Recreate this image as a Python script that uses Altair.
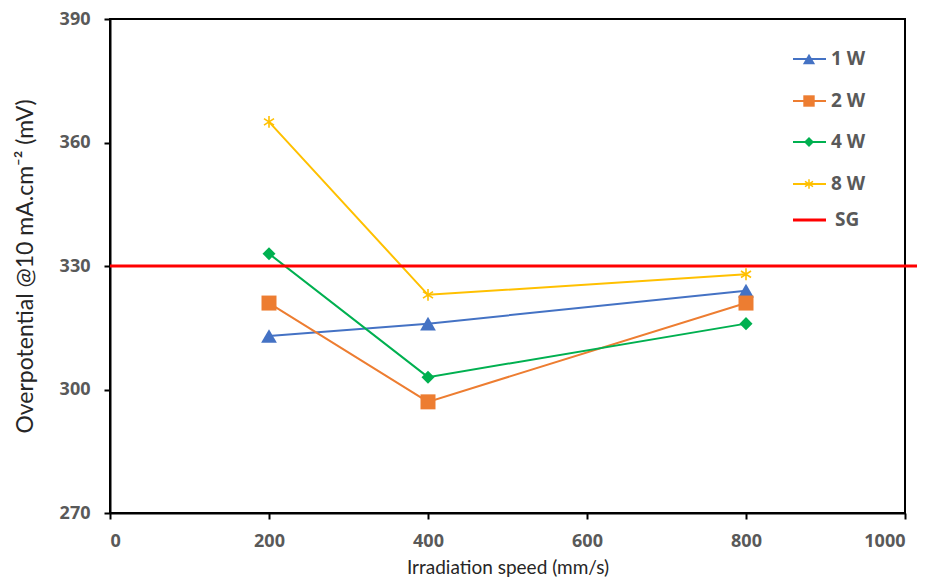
import altair as alt
import pandas as pd

# ---- data ----
speeds = [200, 400, 800]
w1 = [313, 316, 324]
w2 = [321, 297, 321]
w4 = [333, 303, 316]
w8 = [365, 323, 328]
sg_x = [0, 1022]
sg_y = [330, 330]
series = ["1 W", "2 W", "4 W", "8 W"]
legend_names = ["1 W", "2 W", "4 W", "8 W", "SG"]
colors = ["#4472C4", "#ED7D31", "#00B050", "#FFC000"]
sg_color = "#FF0000"
x_ticks = [0, 200, 400, 600, 800, 1000]
y_ticks = [270, 300, 330, 360, 390]

rows = []
for name, vals in zip(series, [w1, w2, w4, w8]):
    for s, v in zip(speeds, vals):
        rows.append({"series": name, "speed": s, "value": v})
df = pd.DataFrame(rows)
sg_df = pd.DataFrame({"speed": sg_x, "value": sg_y})

LABEL_FONT = "Open Sans"
TITLE_FONT = "Lato"
ASTER = "M0,-1L0,1M-0.85,-0.55L0.85,0.55M-0.85,0.55L0.85,-0.55"

xs = alt.Scale(domain=[0, 1000], nice=False, zero=False)
ys = alt.Scale(domain=[270, 390], nice=False, zero=False)
X = alt.X("speed:Q", scale=xs, axis=alt.Axis(values=x_ticks, format="d", title="Irradiation speed (mm/s)"))
Y = alt.Y("value:Q", scale=ys, axis=alt.Axis(values=y_ticks, format="d", title="Overpotential @10 mA.cm⁻² (mV)",
                                             titleFontSize=23))
col = alt.Color("series:N", scale=alt.Scale(domain=series, range=colors), legend=None)

lines = alt.Chart(df).mark_line(strokeWidth=2).encode(x=X, y=Y, color=col, detail="series:N")

def pts(name, shape, size, filled=True):
    d = df[df.series == name]
    c = colors[series.index(name)]
    if filled:
        m = alt.Chart(d).mark_point(shape=shape, size=size, filled=True, opacity=1, color=c)
    else:
        m = alt.Chart(d).mark_point(shape=shape, size=size, filled=False, opacity=1, color=c, strokeWidth=1.6)
    return m.encode(x=X, y=Y)

p1 = pts("1 W", "triangle-up", 250)
p2 = pts("2 W", "square", 225)
p4 = pts("4 W", "diamond", 170)
p8 = pts("8 W", ASTER, 140, filled=False)

sg = alt.Chart(sg_df).mark_line(color=sg_color, strokeWidth=3, clip=False).encode(x=X, y=Y)

# ---- manual legend (inside plot, top right) ----
leg_rows_y = [40, 82, 123, 165, 201]
leg_shapes = ["triangle-up", "square", "diamond", ASTER, None]
leg_sizes = [150, 130, 100, 90, None]
leg_colors = colors + [sg_color]
legend_layers = []
for i, name in enumerate(legend_names):
    ld = pd.DataFrame({"label": [name]})
    yv = alt.value(leg_rows_y[i])
    legend_layers.append(
        alt.Chart(ld).mark_rule(color=leg_colors[i], strokeWidth=3 if name == "SG" else 2).encode(
            x=alt.value(683), x2=alt.value(716), y=yv)
    )
    if leg_shapes[i] is not None:
        filled = leg_shapes[i] != ASTER
        legend_layers.append(
            alt.Chart(ld).mark_point(shape=leg_shapes[i], size=leg_sizes[i], filled=filled, opacity=1,
                                     color=leg_colors[i], strokeWidth=1.5).encode(x=alt.value(699), y=yv)
        )
    legend_layers.append(
        alt.Chart(ld).mark_text(align="left", baseline="middle", font=LABEL_FONT, fontWeight="bold",
                                fontSize=19, color="#595959").encode(
            x=alt.value(725 if name == "SG" else 721), y=yv, text="label:N")
    )

chart = alt.layer(lines, sg, p1, p2, p4, p8, *legend_layers).properties(
    width=795, height=494,
    autosize=alt.AutoSizeParams(type="none"),
    padding={"left": 102, "top": 11, "right": 12, "bottom": 67},
).configure_view(stroke="black", strokeWidth=2).configure_axis(
    grid=False,
    domainColor="black", domainWidth=2,
    tickColor="black", tickWidth=2, tickSize=6,
    labelFont=LABEL_FONT, labelFontWeight="bold", labelFontSize=18, labelColor="#595959",
    titleFont=TITLE_FONT, titleFontWeight="normal", titleFontSize=19, titleColor="#262626",
).configure_axisX(labelPadding=13, titlePadding=8).configure_axisY(labelPadding=14, titlePadding=22)

chart.save("out.html", embed_options={"renderer": "svg", "actions": False})
